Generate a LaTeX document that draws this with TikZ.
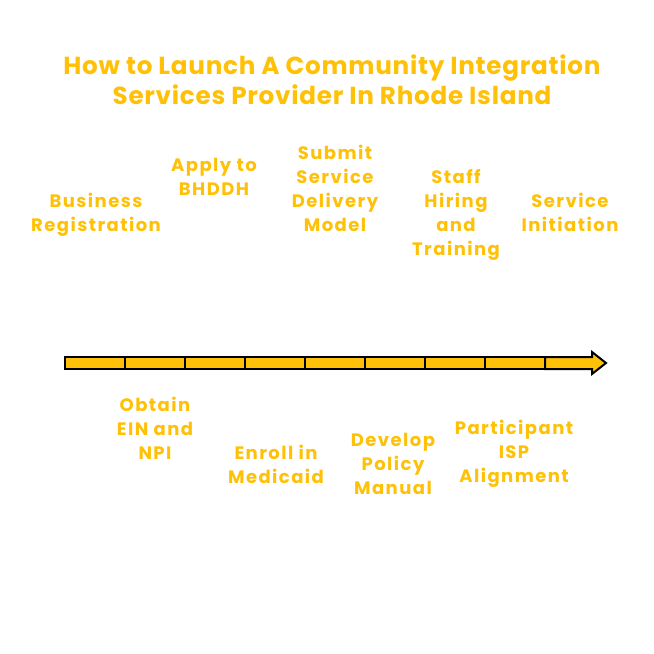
\documentclass[tikz,border=0pt]{standalone}
\usepackage{fontspec}
\setmainfont{Poppins}
\usepackage{xcolor}
\usepackage{tikz}
\definecolor{amber}{RGB}{255,193,7}
\tikzset{
  steplabel/.style={text=amber, font=\bfseries\fontsize{13.5}{18}\selectfont\addfontfeatures{LetterSpace=8}, align=center, inner sep=0pt},
  titlelabel/.style={text=amber, font=\bfseries\fontsize{18.5}{22.5}\selectfont\addfontfeatures{LetterSpace=3}, align=center, inner sep=0pt},
  barpart/.style={draw=black, fill=amber, line width=1.5pt, line join=miter}
}

\begin{document}
\begin{tikzpicture}[x=0.75pt, y=-0.75pt]
      \useasboundingbox (0,0) rectangle (654,654);
      \node[titlelabel] (title) at (332,80){How to Launch A Community Integration\\Services Provider In Rhode Island};

      % the timeline bar
      \foreach \i in {0,...,7}
        \draw[barpart] (65+60*\i,357) rectangle (125+60*\i,369);
      \draw[barpart] (545,357) -- (592,357) -- (592,352) -- (606,363) -- (592,374) -- (592,369) -- (545,369) -- cycle;

      % above the bar
      \node[steplabel] (reg) at (96,215){Business\\Registration};
      \node[steplabel] (apply) at (214,177){Apply to\\BHDDH};
      \node[steplabel] (model) at (335,188){Submit\\Service\\Delivery\\Model};
      \node[steplabel] (staff) at (456,215){Staff\\Hiring\\and\\Training};
      \node[steplabel] (start) at (570,212){Service\\Initiation};

      % below the bar
      \node[steplabel] (ein) at (155,428){Obtain\\EIN and\\NPI};
      \node[steplabel] (medicaid) at (276,464){Enroll in\\Medicaid};
      \node[steplabel] (manual) at (393,464){Develop\\Policy\\Manual};
      \node[steplabel] (isp) at (514,454){Participant\\ISP\\Alignment};
    \end{tikzpicture}
\end{document}
